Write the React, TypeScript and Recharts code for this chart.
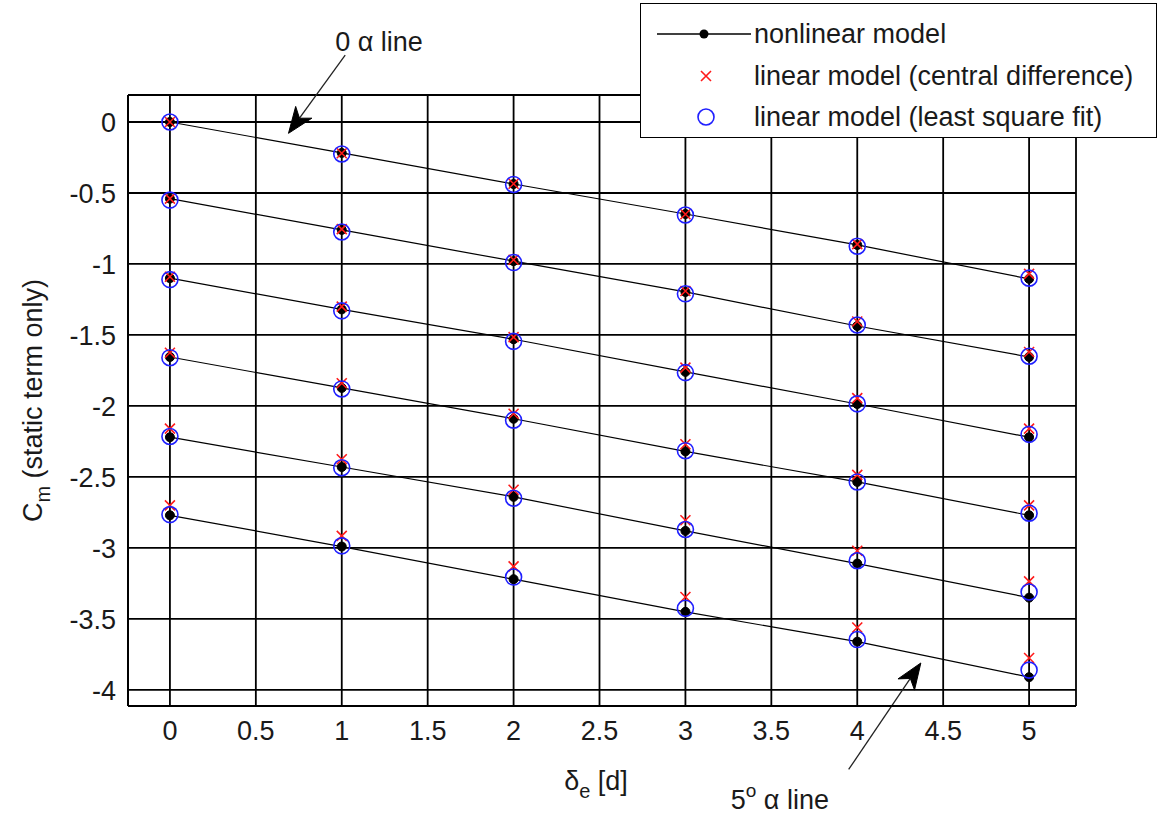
import React from 'react';
import { ComposedChart, Line, XAxis, YAxis, CartesianGrid, Legend, ReferenceLine, Label } from 'recharts';

const deltaE = [0, 1, 2, 3, 4, 5];
const xTicks = [0, 0.5, 1, 1.5, 2, 2.5, 3, 3.5, 4, 4.5, 5];
const yTicks = [0, -0.5, -1, -1.5, -2, -2.5, -3, -3.5, -4];

// nonlinear model (one list per angle of attack line, 0..5 deg)
const nonlinearA0 = [0, -0.218, -0.437, -0.648, -0.866, -1.105];
const nonlinearA1 = [-0.54, -0.76, -0.98, -1.197, -1.437, -1.655];
const nonlinearA2 = [-1.1, -1.32, -1.53, -1.76, -1.986, -2.22];
const nonlinearA3 = [-1.655, -1.873, -2.09, -2.32, -2.535, -2.77];
const nonlinearA4 = [-2.22, -2.43, -2.64, -2.88, -3.11, -3.35];
const nonlinearA5 = [-2.77, -2.99, -3.22, -3.45, -3.66, -3.91];

// linear model (central difference)
const centralA0 = [0, -0.22, -0.435, -0.65, -0.86, -1.07];
const centralA1 = [-0.54, -0.755, -0.97, -1.19, -1.405, -1.62];
const centralA2 = [-1.09, -1.3, -1.515, -1.73, -1.945, -2.16];
const centralA3 = [-1.625, -1.84, -2.055, -2.27, -2.485, -2.7];
const centralA4 = [-2.16, -2.375, -2.59, -2.805, -3.02, -3.235];
const centralA5 = [-2.7, -2.915, -3.13, -3.345, -3.56, -3.775];

// linear model (least square fit)
const lsqA0 = [0, -0.225, -0.44, -0.655, -0.875, -1.1];
const lsqA1 = [-0.55, -0.775, -0.99, -1.21, -1.43, -1.65];
const lsqA2 = [-1.11, -1.33, -1.545, -1.765, -1.985, -2.2];
const lsqA3 = [-1.66, -1.88, -2.1, -2.315, -2.535, -2.755];
const lsqA4 = [-2.215, -2.435, -2.65, -2.87, -3.09, -3.31];
const lsqA5 = [-2.765, -2.985, -3.205, -3.425, -3.645, -3.86];

const nonlinear = [nonlinearA0, nonlinearA1, nonlinearA2, nonlinearA3, nonlinearA4, nonlinearA5];
const central = [centralA0, centralA1, centralA2, centralA3, centralA4, centralA5];
const lsq = [lsqA0, lsqA1, lsqA2, lsqA3, lsqA4, lsqA5];

const data = deltaE.map((de, i) => {
  const row: Record<string, number> = { de };
  for (let a = 0; a < 6; a++) {
    row[`n${a}`] = nonlinear[a][i];
    row[`c${a}`] = central[a][i];
    row[`l${a}`] = lsq[a][i];
  }
  return row;
});

const FONT = '"Liberation Sans", Arial, Helvetica, sans-serif';
const TXT = '#1a1a1a';
const BLUE = '#1f1fff';
const RED = '#ff1a1a';

const XMark = (props: any) => {
  const { cx, cy, index, dataKey } = props;
  if (cx == null || cy == null) return <g key={`x-${dataKey}-${index}`} />;
  const s = 5;
  return (
    <path
      key={`x-${dataKey}-${index}`}
      d={`M${cx - s},${cy - s}L${cx + s},${cy + s}M${cx - s},${cy + s}L${cx + s},${cy - s}`}
      stroke={RED}
      strokeWidth={1.6}
      fill="none"
    />
  );
};

const makeArrow = (kind: 'top' | 'bottom') => (props: any) => {
  const { x1, y1, x2, y2 } = props;
  const dx = x2 - x1;
  const dy = y2 - y1;
  const len = Math.sqrt(dx * dx + dy * dy);
  const ux = dx / len;
  const uy = dy / len;
  const px = -uy;
  const py = ux;
  const hl = 26;
  const hw = 10;
  const bx = x2 - ux * hl;
  const by = y2 - uy * hl;
  const ix = x2 - ux * hl * 0.72;
  const iy = y2 - uy * hl * 0.72;
  const head = `M${x2},${y2}L${bx + px * hw},${by + py * hw}L${ix},${iy}L${bx - px * hw},${by - py * hw}Z`;
  return (
    <g>
      <line x1={x1} y1={y1} x2={ix} y2={iy} stroke="#222" strokeWidth={1.3} />
      <path d={head} fill="#000" stroke="#000" strokeWidth={1} />
      {kind === 'top' ? (
        <text x={x1 - 10} y={y1 - 4} fontSize={27} fontFamily={FONT} fill={TXT}>
          0 α line
        </text>
      ) : (
        <text x={x1 - 118} y={y1 + 40} fontSize={27} fontFamily={FONT} fill={TXT}>
          5<tspan dy={-12} fontSize={19}>o</tspan>
          <tspan dy={12}> α line</tspan>
        </text>
      )}
    </g>
  );
};

const renderLegend = () => (
  <div
    style={{
      width: '100%',
      height: '100%',
      boxSizing: 'border-box',
      border: '1.5px solid #000',
      background: '#fff',
      position: 'relative',
      fontFamily: FONT,
      fontSize: 27,
      color: TXT,
    }}
  >
    <svg width={120} height={135} style={{ position: 'absolute', left: 0, top: 0 }}>
      <line x1={16} y1={30} x2={110} y2={30} stroke="#000" strokeWidth={1.5} />
      <circle cx={63} cy={30} r={4.5} fill="#000" />
      <path d="M60,67L70,77M60,77L70,67" stroke={RED} strokeWidth={1.6} />
      <circle cx={65} cy={113} r={8} fill="none" stroke={BLUE} strokeWidth={1.6} />
    </svg>
    <div style={{ position: 'absolute', left: 113, top: 13, lineHeight: '34px', whiteSpace: 'nowrap' }}>nonlinear model</div>
    <div style={{ position: 'absolute', left: 113, top: 55, lineHeight: '34px', whiteSpace: 'nowrap' }}>linear model (central difference)</div>
    <div style={{ position: 'absolute', left: 113, top: 96, lineHeight: '34px', whiteSpace: 'nowrap' }}>linear model (least square fit)</div>
  </div>
);

const XLabelContent = (props: any) => {
  const vb = props.viewBox || {};
  const cx = vb.x + vb.width / 2 - 6;
  const y = vb.y + 84;
  return (
    <text x={cx} y={y} textAnchor="middle" fontSize={27} fontFamily={FONT} fill={TXT}>
      δ<tspan dy={8} fontSize={20}>e</tspan>
      <tspan dy={-8}> [d]</tspan>
    </text>
  );
};

const YLabelContent = (props: any) => {
  const vb = props.viewBox || {};
  const cy = vb.y + vb.height / 2;
  const x = 42;
  return (
    <text
      x={0}
      y={0}
      transform={`translate(${x},${cy}) rotate(-90)`}
      textAnchor="middle"
      fontSize={27}
      fontFamily={FONT}
      fill={TXT}
    >
      C<tspan dy={8} fontSize={20}>m</tspan>
      <tspan dy={-8}> (static term only)</tspan>
    </text>
  );
};

export default function App() {
  return (
    <div style={{ position: 'absolute', left: 0, top: 0, width: 1157, height: 815, background: '#fff' }}>
      <ComposedChart width={1157} height={815} data={data} margin={{ top: 95, right: 81, left: 0, bottom: 0 }}>
        <CartesianGrid stroke="#000" strokeWidth={1.8} />
        <XAxis
          type="number"
          dataKey="de"
          domain={[-0.244, 5.273]}
          ticks={xTicks}
          interval={0}
          height={109}
          tickSize={0}
          tickMargin={15}
          tickLine={false}
          axisLine={{ stroke: '#000', strokeWidth: 2 }}
          tick={{ fontSize: 27, fill: TXT, fontFamily: FONT }}
          allowDataOverflow
        >
          <Label content={<XLabelContent />} />
        </XAxis>
        <YAxis
          type="number"
          domain={[-4.113, 0.19]}
          ticks={yTicks}
          interval={0}
          width={128}
          tickSize={0}
          tickMargin={12}
          tickLine={false}
          axisLine={{ stroke: '#000', strokeWidth: 2 }}
          tick={{ fontSize: 27, fill: TXT, fontFamily: FONT }}
          allowDataOverflow
        >
          <Label content={<YLabelContent />} />
        </YAxis>
        {nonlinear.map((_, a) => (
          <Line
            key={`n${a}`}
            dataKey={`n${a}`}
            stroke="#000"
            strokeWidth={1.2}
            dot={{ r: 4.5, fill: '#000', stroke: '#000', strokeWidth: 1 }}
            activeDot={false}
            isAnimationActive={false}
            legendType="none"
          />
        ))}
        {central.map((_, a) => (
          <Line
            key={`c${a}`}
            dataKey={`c${a}`}
            stroke="none"
            dot={(p: any) => <XMark {...p} key={`xm-${a}-${p.index}`} />}
            activeDot={false}
            isAnimationActive={false}
            legendType="none"
          />
        ))}
        {lsq.map((_, a) => (
          <Line
            key={`l${a}`}
            dataKey={`l${a}`}
            stroke="none"
            dot={{ r: 8, fill: 'none', stroke: BLUE, strokeWidth: 1.6 }}
            activeDot={false}
            isAnimationActive={false}
            legendType="none"
          />
        ))}
        <ReferenceLine
          segment={[{ x: 1.02, y: 0.47 }, { x: 0.69, y: -0.08 }]}
          ifOverflow="visible"
          shape={makeArrow('top')}
        />
        <ReferenceLine
          segment={[{ x: 3.95, y: -4.56 }, { x: 4.37, y: -3.81 }]}
          ifOverflow="visible"
          shape={makeArrow('bottom')}
        />
        <Legend
          layout="vertical"
          verticalAlign="middle"
          align="center"
          content={renderLegend}
          wrapperStyle={{ position: 'absolute', left: 640, top: 3, width: 517, height: 135, margin: 0 }}
        />
      </ComposedChart>
    </div>
  );
}
